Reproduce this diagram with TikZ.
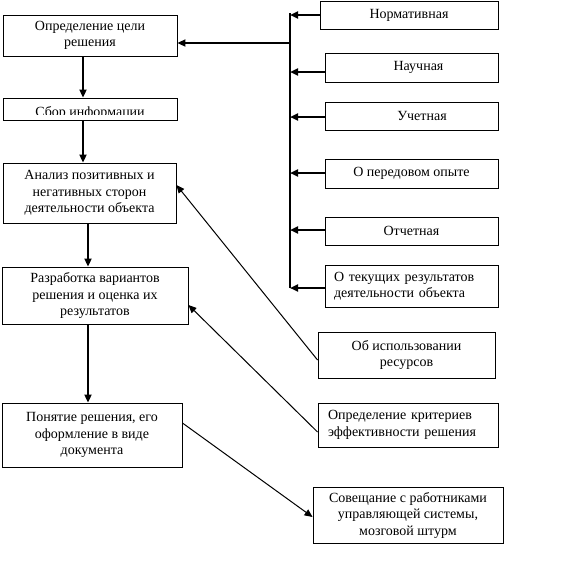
\documentclass[tikz,border=0pt]{standalone}
\usepackage{fontspec}
\setmainfont{Liberation Serif}
\usetikzlibrary{arrows.meta,calc}
\begin{document}
\begin{tikzpicture}[x=1pt,y=-1pt,
  box/.style={draw,line width=0.9pt,inner sep=0pt,align=center,
    font=\fontsize{14}{16.5}\selectfont},
  lbox/.style={box,align=left},
  harr/.style={line width=2pt,-{Triangle[length=8pt,width=7pt]}},
  tarr/.style={line width=1pt,-{Triangle[length=8pt,width=7pt]}},
  busline/.style={line width=1.2pt}
]
\useasboundingbox (0,0) rectangle (578,563);

% left column
\node[box,minimum width=174pt,minimum height=41pt] (b1) at (90,35.5) {Определение цели\\решения};
\node[box,minimum width=174pt,minimum height=22pt] (b2) at (90,109) {};
\begin{scope}
  \clip (b2.north west) rectangle (177,114.5);
  \node[font=\fontsize{14}{16.5}\selectfont,anchor=base,inner sep=0pt] (b2t) at (90,116) {Сбор информации};
\end{scope}
\node[box,minimum width=173pt,minimum height=60pt] (b3) at (89.5,193) {Анализ позитивных и\\негативных сторон\\деятельности объекта};
\node[box,minimum width=186pt,minimum height=57pt] (b4) at (95,295.5) {Разработка вариантов\\решения и оценка их\\результатов};
\node[box,minimum width=180pt,minimum height=64pt] (b5) at (92,435) {Понятие решения, его\\оформление в виде\\документа};

% right column
\node[box,minimum width=178pt,minimum height=28pt] (n1) at (409,15) {Нормативная};
\node[box,minimum width=173pt,minimum height=29pt] (n2) at (411.5,67.5) {\hspace*{14pt}Научная};
\node[box,minimum width=173pt,minimum height=28pt] (n3) at (411.5,116) {\hspace*{21pt}Учетная};
\node[box,minimum width=173pt,minimum height=29pt] (n4) at (411.5,173.5) {О передовом опыте};
\node[box,minimum width=173pt,minimum height=28pt] (n5) at (411.5,231) {Отчетная};
\node[lbox,minimum width=173pt,minimum height=42pt,text width=155pt,inner xsep=9pt] (n6) at (411.5,286) {О текущих результатов\\деятельности объекта};
\node[box,minimum width=177pt,minimum height=46pt] (u) at (406.5,355) {Об использовании\\ресурсов};
\node[lbox,minimum width=180pt,minimum height=44pt,text width=160pt,inner xsep=10pt] (k) at (408,425) {Определение критериев\\эффективности решения};
\node[box,minimum width=190pt,minimum height=56pt] (s) at (408,515) {Совещание с работниками\\управляющей системы,\\мозговой штурм};

% bus
\coordinate (bt) at (290,13);
\coordinate (bb) at (290,288);
\draw[busline] (bt) -- (bb);
\draw[harr] (n1.west |- 0,15) -- (bt |- 0,15);
\draw[harr] (n2.west |- 0,72) -- (bt |- 0,72);
\draw[harr] (n3.west |- 0,117) -- (bt |- 0,117);
\draw[harr] (n4.west |- 0,173) -- (bt |- 0,173);
\draw[harr] (n5.west |- 0,230) -- (bt |- 0,230);
\draw[harr] (n6.west |- 0,288) -- (bt |- 0,288);
\draw[harr] (bt |- 0,43) -- (b1.east |- 0,43);

% left vertical flow
\draw[harr] (b1.south -| 83,0) -- (b2.north -| 83,0);
\draw[harr] (b2.south -| 83,0) -- (b3.north -| 83,0);
\draw[harr] (b3.south -| 88,0) -- (b4.north -| 88,0);
\draw[harr] (b4.south -| 88,0) -- (b5.north -| 88,0);

% diagonals
\draw[tarr] (u.west |- 0,360) -- (b3.east |- 0,185);
\draw[tarr] (k.west |- 0,432) -- (b4.east |- 0,305);
\draw[tarr] (b5.east |- 0,423) -- (s.west |- 0,517);
\end{tikzpicture}
\end{document}
